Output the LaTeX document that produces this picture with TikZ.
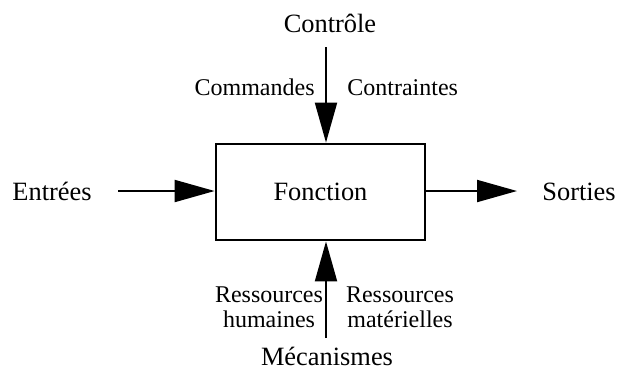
\documentclass[tikz,border=0pt]{standalone}
\usepackage{fontspec}
\setmainfont{Liberation Serif}
\usetikzlibrary{
    arrows.meta,
    positioning,
    calc
}

\begin{document}
\begin{tikzpicture}[
    x=0.5pt,
    y=-0.5pt,
    every node/.style={
        font=\fontsize{13.2pt}{11.5pt}\selectfont,
        inner sep=0pt
    },
    sublabel/.style={
        font=\fontsize{12pt}{12.5pt}\selectfont
    },
    flow/.style={
        line width=1pt,
        -{Triangle[length=20pt,width=11pt]}
    }
]

    \useasboundingbox (0,0) rectangle (617,372);

    % Function box
    \node[
        draw,
        line width=1.4pt,
        minimum width=104.5pt,
        minimum height=48pt
    ] (fonction) at (320.5,192)
        {Fonction};

    % Inputs and outputs
    \node[anchor=base] (entrees) at (52,200) {Entrées};
    \node[anchor=base west] (sorties) at (542,200) {Sorties};

    \coordinate (inStart) at (118,191);
    \coordinate (outEnd) at (517,191);

    \draw[flow]
        (inStart) -- (inStart -| fonction.west);

    \draw[flow]
        (outEnd -| fonction.east) -- (outEnd);

    % Control from above
    \node[anchor=base] (controle) at (330,32) {Contrôle};

    \coordinate (ctrlStart) at (326,47);

    \draw[flow]
        (ctrlStart) -- (ctrlStart |- fonction.north);

    \node[sublabel, anchor=base east] (commandes) at (315,95) {Commandes};
    \node[sublabel, anchor=base west] (contraintes) at (347,95) {Contraintes};

    % Mechanisms from below
    \node[anchor=base] (mecanismes) at (327,365) {Mécanismes};

    \coordinate (mecStart) at (326,338);

    \draw[flow]
        (mecStart) -- (mecStart |- fonction.south);

    \node[
        sublabel,
        align=center,
        anchor=base
    ] (humaines) at (269,327)
        {Ressources\\humaines};

    \node[
        sublabel,
        align=center,
        anchor=base
    ] (materielles) at (400,327)
        {Ressources\\matérielles};

\end{tikzpicture}
\end{document}
